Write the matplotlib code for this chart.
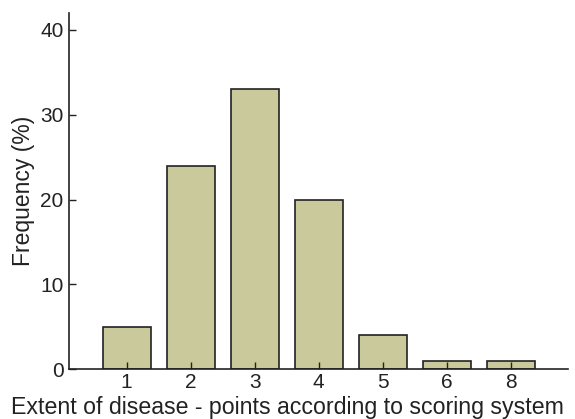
import matplotlib
matplotlib.use("Agg")
import matplotlib.pyplot as plt

# --- Data ---
scores = ["1", "2", "3", "4", "5", "6", "8"]
frequency = [5, 24, 33, 20, 4, 1, 1]

plt.rcParams['font.family'] = ['Liberation Sans', 'DejaVu Sans']

fig = plt.figure(figsize=(5.75, 4.19), dpi=100)
ax = fig.add_axes([0.12, 0.119, 0.868, 0.85])

pos = list(range(1, len(scores) + 1))
ax.bar(pos, frequency, width=0.75, color='#C9C99B', edgecolor='#222222', linewidth=1.2)

ax.set_xlim(0.1, 7.9)
ax.set_ylim(0, 42)
ax.set_xticks(pos)
ax.set_xticklabels(scores)
ax.set_yticks([0, 10, 20, 30, 40])
ax.tick_params(direction='in', length=5, width=1, labelsize=15, colors='#222222')
ax.tick_params(axis='x', pad=3)
ax.tick_params(axis='y', pad=4)

for s in ['top', 'right']:
    ax.spines[s].set_visible(False)
for s in ['left', 'bottom']:
    ax.spines[s].set_linewidth(1.2)
    ax.spines[s].set_color('#222222')

# x label is centred on the figure rather than the axes
fig.text(0.5, 0.012, 'Extent of disease - points according to scoring system',
         fontsize=16.7, color='#222222', ha='center', va='baseline')
ax.set_ylabel('Frequency (%)', fontsize=16.5, color='#222222', labelpad=4)

fig.savefig('out.png', dpi=100)
